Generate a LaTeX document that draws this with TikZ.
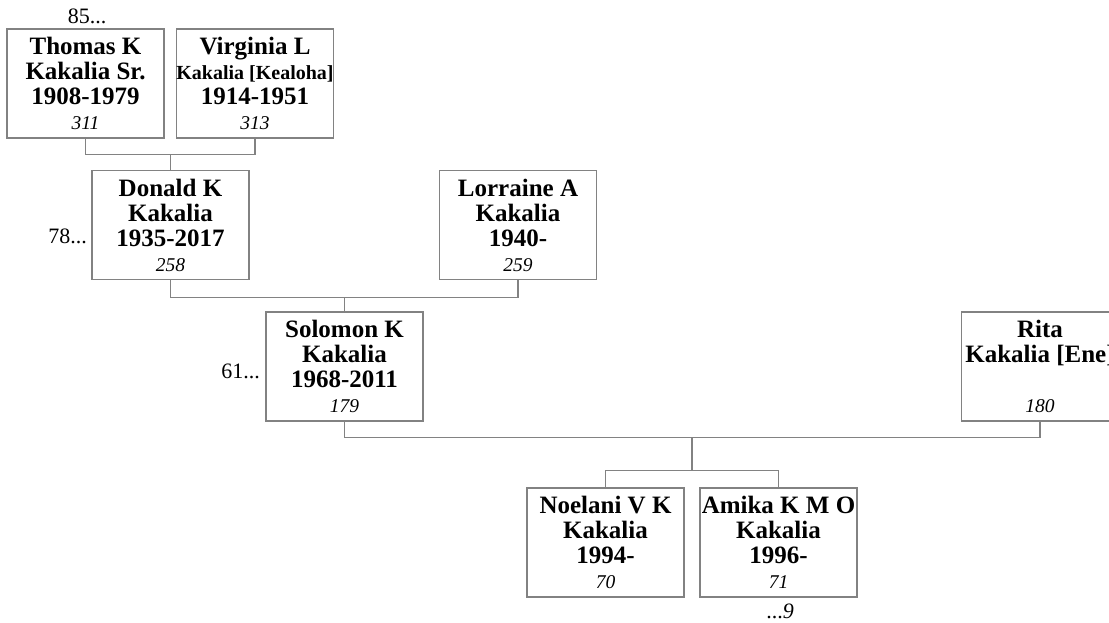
\documentclass[tikz,border=0pt]{standalone}
\usepackage{fontspec}
\setmainfont{Liberation Serif}
\usetikzlibrary{calc}
\definecolor{linegray}{RGB}{130,130,130}
\tikzset{
  person/.style={draw=linegray, line width=1.3pt, fill=white,
    minimum width=157pt, minimum height=109pt, inner sep=0pt,
    align=center, font=\fontsize{25}{25}\selectfont\bfseries},
  link/.style={draw=linegray, line width=1.3pt},
  gen/.style={inner sep=0pt, font=\fontsize{22}{25}\selectfont}
}
\newcommand{\refno}[1]{{\fontsize{19.5}{25}\selectfont\mdseries\itshape #1}}
\newcommand{\smallname}[1]{{\fontsize{20}{25}\selectfont #1}}
\begin{document}
\begin{tikzpicture}[x=1pt,y=-1pt]
  \useasboundingbox (0,0) rectangle (1109,622);
  % grandparents
  \node[person] (thomas)   at (85.5,83.5) {Thomas K\\Kakalia Sr.\\1908-1979\\\refno{311}};
  \node[person] (virginia) at (255,83.5)  {Virginia L\\\smallname{Kakalia [Kealoha]}\\1914-1951\\\refno{313}};
  % parents
  \node[person] (donald)   at (170.5,225) {Donald K\\Kakalia\\1935-2017\\\refno{258}};
  \node[person] (lorraine) at (518,225)   {Lorraine A\\Kakalia\\1940-\\\refno{259}};
  % couple
  \node[person] (solomon)  at (344.5,366.5) {Solomon K\\Kakalia\\1968-2011\\\refno{179}};
  \node[person] (rita)     at (1040,366.5)  {Rita\\Kakalia [Ene]\\\mbox{}\\\refno{180}};
  % children
  \node[person] (noelani)  at (605.5,542.5) {Noelani V K\\Kakalia\\1994-\\\refno{70}};
  \node[person] (amika)    at (778.5,542.5) {Amika K M O\\Kakalia\\1996-\\\refno{71}};
  % generation counts
  \node[gen, anchor=base]      (more85) at (87,23)   {85...};
  \node[gen, anchor=base east] (more78) at (87,243)  {78...};
  \node[gen, anchor=base east] (more61) at (260,378) {61...};
  \node[gen, anchor=base]      (more9)  at (780,618) {...\textit{9}};
  % family lines
  \draw[link] (thomas.south) -- ++(0,16) coordinate (tv) -| (virginia.south);
  \draw[link] (donald.north) -- (donald.north |- tv);
  \draw[link] (donald.south) -- ++(0,17) coordinate (dl) -| (lorraine.south);
  \draw[link] (solomon.north) -- (solomon.north |- dl);
  \draw[link] (solomon.south) -- ++(0,16) coordinate (sr) -| (rita.south);
  \draw[link] (noelani.north) -- ++(0,-17) coordinate (na) -| (amika.north);
  \coordinate (kids) at ($(noelani.north)!0.5!(amika.north)$);
  \draw[link] (kids |- na) -- (kids |- sr);
\end{tikzpicture}
\end{document}
